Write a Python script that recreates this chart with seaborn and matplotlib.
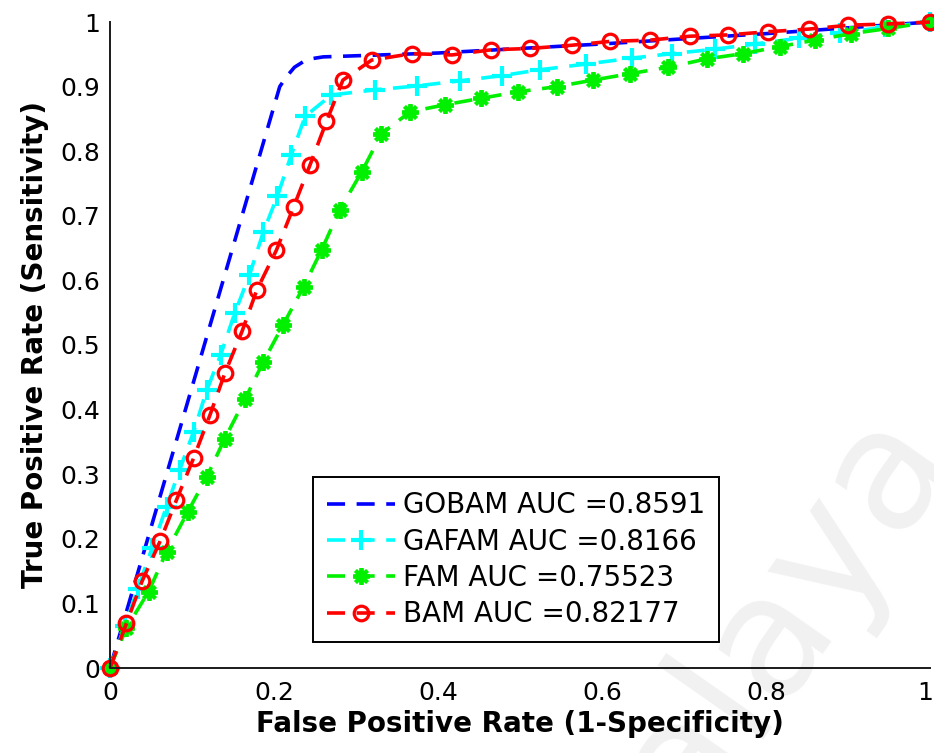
import matplotlib
matplotlib.use("Agg")
import matplotlib.pyplot as plt
import matplotlib.transforms as mtransforms
import seaborn as sns
import pandas as pd

# ---- data ----
gobam_fpr = [0, 0.207, 0.215, 0.225, 0.24, 0.26, 0.4, 0.6, 0.8, 1.0]
gobam_tpr = [0, 0.9, 0.915, 0.93, 0.942, 0.946, 0.952, 0.966, 0.982, 1.0]

gafam_fpr = [0, 0.018, 0.034, 0.051, 0.069, 0.085, 0.102, 0.118, 0.135, 0.152,
             0.17, 0.187, 0.204, 0.221, 0.238, 0.27, 0.323, 0.374, 0.427, 0.478,
             0.524, 0.581, 0.636, 0.685, 0.738, 0.787, 0.84, 0.89, 0.945, 1.0]
gafam_tpr = [0, 0.065, 0.123, 0.185, 0.25, 0.307, 0.366, 0.43, 0.485, 0.549,
             0.608, 0.675, 0.73, 0.794, 0.854, 0.887, 0.895, 0.901, 0.909, 0.917,
             0.926, 0.935, 0.944, 0.951, 0.958, 0.966, 0.975, 0.983, 0.992, 1.0]

fam_fpr = [0, 0.02, 0.047, 0.069, 0.095, 0.118, 0.14, 0.165, 0.187, 0.211,
           0.236, 0.258, 0.28, 0.307, 0.331, 0.366, 0.409, 0.453, 0.498, 0.545,
           0.589, 0.634, 0.681, 0.728, 0.772, 0.817, 0.86, 0.904, 0.949, 1.0]
fam_tpr = [0, 0.062, 0.118, 0.18, 0.242, 0.296, 0.355, 0.417, 0.474, 0.531,
           0.59, 0.647, 0.709, 0.768, 0.827, 0.861, 0.872, 0.882, 0.892, 0.9,
           0.91, 0.92, 0.93, 0.943, 0.951, 0.962, 0.972, 0.982, 0.99, 1.0]

bam_fpr = [0, 0.02, 0.039, 0.061, 0.081, 0.102, 0.122, 0.14, 0.161, 0.179,
           0.203, 0.224, 0.244, 0.264, 0.284, 0.319, 0.368, 0.417, 0.465, 0.512,
           0.563, 0.61, 0.659, 0.707, 0.754, 0.803, 0.852, 0.9, 0.949, 1.0]
bam_tpr = [0, 0.069, 0.134, 0.196, 0.26, 0.325, 0.392, 0.456, 0.521, 0.585,
           0.647, 0.714, 0.779, 0.846, 0.91, 0.941, 0.951, 0.949, 0.957, 0.959,
           0.964, 0.97, 0.972, 0.978, 0.98, 0.985, 0.989, 0.995, 0.997, 1.0]

labels = ["GOBAM AUC =0.8591", "GAFAM AUC =0.8166", "FAM AUC =0.75523", "BAM AUC =0.82177"]
x_ticks = [0, 0.2, 0.4, 0.6, 0.8, 1]
x_ticklabels = ["0", "0.2", "0.4", "0.6", "0.8", "1"]
y_ticks = [0, 0.1, 0.2, 0.3, 0.4, 0.5, 0.6, 0.7, 0.8, 0.9, 1]
y_ticklabels = ["0", "0.1", "0.2", "0.3", "0.4", "0.5", "0.6", "0.7", "0.8", "0.9", "1"]

sns.set_style("white")
plt.rcParams["font.family"] = ["DejaVu Sans"]
plt.rcParams["text.color"] = "black"
plt.rcParams["axes.labelcolor"] = "black"

fig = plt.figure(figsize=(9.34, 7.53), dpi=100)
ax = fig.add_axes([110 / 934, 85 / 753, 820 / 934, 646 / 753])
ax.set_facecolor("none")

# faint watermark
fig.text(740 / 934, 1 - 668 / 753, "Malaya", fontsize=122, color="#f1f1f1",
         rotation=55, ha="center", va="center", zorder=-5)

dash = (0, (5.0, 3.2))
series = [
    (gobam_fpr, gobam_tpr, "#0000ff", dict(marker=None)),
    (gafam_fpr, gafam_tpr, "#00ffff", dict(marker="+", markersize=14, markeredgewidth=3)),
    (fam_fpr, fam_tpr, "#00f000", dict(marker=(8, 2, 0), markersize=12, markeredgewidth=2.8)),
    (bam_fpr, bam_tpr, "#ff0000", dict(marker="o", markersize=10.5, markeredgewidth=2.3,
                                       markerfacecolor="none")),
]
for (xs, ys, col, mk), lab in zip(series, labels):
    df = pd.DataFrame({"fpr": xs, "tpr": ys})
    sns.lineplot(data=df, x="fpr", y="tpr", ax=ax, color=col, linewidth=2.6,
                 linestyle=dash, sort=False, estimator=None, label=lab,
                 markeredgecolor=col, clip_on=False, **mk)

ax.set_xlim(0, 1)
ax.set_ylim(0, 1)
ax.set_xticks(x_ticks)
ax.set_xticklabels(x_ticklabels)
ax.set_yticks(y_ticks)
ax.set_yticklabels(y_ticklabels)
ax.tick_params(direction="in", length=7, width=1.2, labelsize=18, colors="black")
ax.tick_params(axis="x", pad=9)
ax.tick_params(axis="y", pad=7)
for s in ["top", "right"]:
    ax.spines[s].set_visible(False)
for s in ["left", "bottom"]:
    ax.spines[s].set_color("#1a1a1a")
    ax.spines[s].set_linewidth(1.4)

# keep the last x tick label inside the figure
last = ax.get_xticklabels()[-1]
last.set_transform(last.get_transform() +
                   mtransforms.ScaledTranslation(-5 / 100, 0, fig.dpi_scale_trans))

ax.set_xlabel("False Positive Rate (1-Specificity)", fontsize=20, fontweight="bold", labelpad=4)
ax.set_ylabel("True Positive Rate (Sensitivity)", fontsize=20, fontweight="bold", labelpad=8)

leg = ax.legend(loc="lower left", bbox_to_anchor=(0.2476, 0.040), borderaxespad=0,
                fontsize=20, frameon=True, fancybox=False, edgecolor="black",
                framealpha=1, borderpad=0.5, labelspacing=0.3, handlelength=2.45,
                handletextpad=0.3, numpoints=1)
leg.get_frame().set_linewidth(1.4)
for t in leg.get_texts():
    t.set_color("black")

fig.savefig("out.png", dpi=100, facecolor="white")
